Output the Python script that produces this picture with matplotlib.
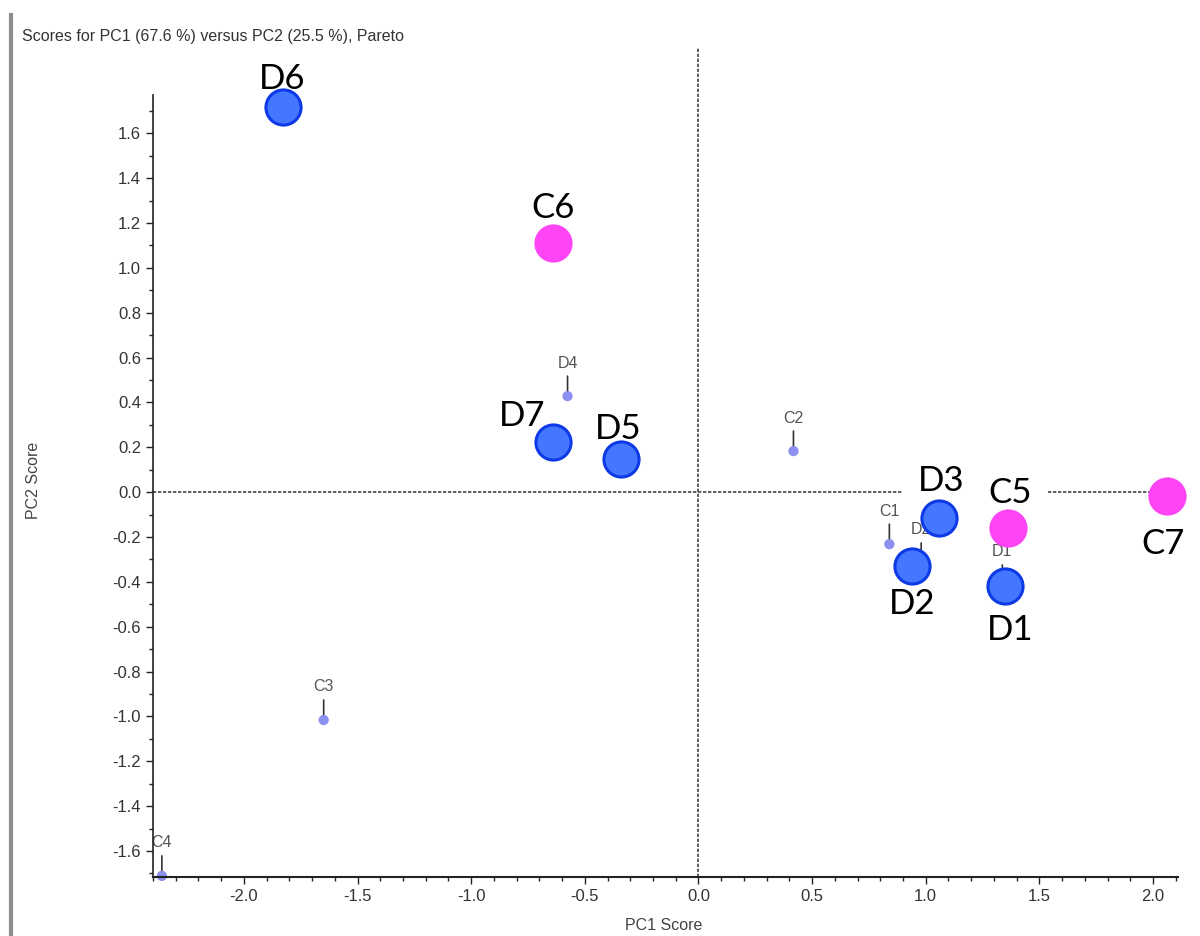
import numpy as np
import matplotlib.pyplot as plt
from matplotlib.lines import Line2D
from matplotlib.ticker import MultipleLocator

plt.rcParams['font.family'] = ['Liberation Sans', 'DejaVu Sans']
plt.rcParams['axes.unicode_minus'] = False

# scores shown as large highlighted markers
big_names = ['D6', 'C6', 'D7', 'D5', 'D3', 'C5', 'D2', 'D1', 'C7']
big_x = [-1.83, -0.64, -0.64, -0.34, 1.06, 1.36, 0.94, 1.35, 2.06]
big_y = [1.716, 1.11, 0.223, 0.147, -0.116, -0.16, -0.33, -0.419, -0.018]
big_group = ['D', 'C', 'D', 'D', 'D', 'C', 'D', 'D', 'C']

# scores drawn with the small default markers
small_names = ['C1', 'C2', 'C3', 'C4', 'D4', 'D2', 'D1']
small_x = [0.84, 0.418, -1.649, -2.361, -0.576, 0.98, 1.337]
small_y = [-0.232, 0.183, -1.016, -1.711, 0.428, -0.316, -0.414]

xticks = [-2.0, -1.5, -1.0, -0.5, 0.0, 0.5, 1.0, 1.5, 2.0]
yticks = [round(v, 1) for v in np.arange(-1.6, 1.61, 0.2)]

W, H = 1200, 936
fig = plt.figure(figsize=(W / 100, H / 100), dpi=100)
ax = fig.add_axes([153 / W, 1 - 877 / H, (1178 - 153) / W, (877 - 48) / H])
ax.set_xlim(-2.40, 2.11)
ax.set_ylim(-1.716, 1.98)

for s in ['top', 'right']:
    ax.spines[s].set_visible(False)
ax.spines['left'].set_bounds(-1.716, 1.77)
ax.spines['left'].set_color('#222222')
ax.spines['bottom'].set_color('#222222')
ax.spines['left'].set_linewidth(1.2)
ax.spines['bottom'].set_linewidth(1.5)

ax.set_xticks(xticks)
ax.set_xticklabels(['%.1f' % v for v in xticks])
ax.set_yticks(yticks)
ax.set_yticklabels(['%.1f' % (v + 0.0) if abs(v) > 1e-9 else '0.0' for v in yticks])
ax.xaxis.set_minor_locator(MultipleLocator(0.1))
ax.set_yticks([v for v in np.arange(-1.7, 1.8, 0.1)], minor=True)
ax.tick_params(which='major', direction='out', length=5, width=1, color='#222222',
               labelsize=12, labelcolor='#333333')
ax.tick_params(which='minor', direction='out', length=3, width=1, color='#222222')

# zero lines
ax.axhline(0, color='#444444', lw=1.2, ls=(0, (2, 1)), zorder=1)
ax.axvline(0, color='#444444', lw=1.2, ls=(0, (2, 1)), zorder=1)

# small markers with leader lines
ax.scatter(small_x, small_y, s=55, color='#8c90f0', edgecolors='none', zorder=2,
           clip_on=False)
for n, x, y in zip(small_names, small_x, small_y):
    ax.annotate(n, xy=(x, y), xytext=(0, 33), textcoords='offset pixels',
                ha='center', va='center', fontsize=11.5, color='#555555', zorder=2)
    ax.annotate('', xy=(x, y), xytext=(0, 20), textcoords='offset pixels',
                arrowprops=dict(arrowstyle='-', color='#333333', lw=1.2,
                                shrinkA=0, shrinkB=4), zorder=2)

# big label offsets in pixels (dx, dy)
label_off = {'D6': (0, 28), 'C6': (0, 35), 'D7': (-31, 26), 'D5': (-3, 30),
             'D3': (2, 37), 'C5': (3, 35), 'D2': (0, -38), 'D1': (5, -44),
             'C7': (-4, -48)}
boxed = ['D3', 'C5']
for n, x, y in zip(big_names, big_x, big_y):
    dx, dy = label_off[n]
    bbox = None
    if n in boxed:
        bbox = dict(boxstyle='square,pad=0.45', fc='white', ec='none')
    ax.annotate(n, xy=(x, y), xytext=(dx, dy), textcoords='offset pixels',
                ha='center', va='center', fontsize=25, family=['Lato', 'DejaVu Sans'],
                color='black', bbox=bbox, zorder=3)

# large markers
fill = {'D': '#4477ff', 'C': '#ff44f5'}
edge = {'D': '#0d3ae6', 'C': '#ff44f5'}
for x, y, g in zip(big_x, big_y, big_group):
    ax.scatter([x], [y], s=640, color=fill[g], edgecolors=edge[g],
               linewidths=2.2, zorder=4, clip_on=False)

fig.text(22 / W, 1 - 37 / H, 'Scores for PC1 (67.6 %) versus PC2 (25.5 %), Pareto',
         fontsize=11.5, color='#333333', va='center', ha='left')
fig.text(664 / W, 1 - 926 / H, 'PC1 Score', fontsize=11.5, color='#444444',
         ha='center', va='center')
fig.text(33 / W, 1 - 480 / H, 'PC2 Score', fontsize=11.5, color='#444444',
         ha='center', va='center', rotation=90)

# window border on the left
fig.add_artist(Line2D([11 / W, 11 / W], [0, 1 - 15 / H], color='#8c8c8c', lw=3))

fig.savefig('out.png', dpi=100, facecolor='white')
